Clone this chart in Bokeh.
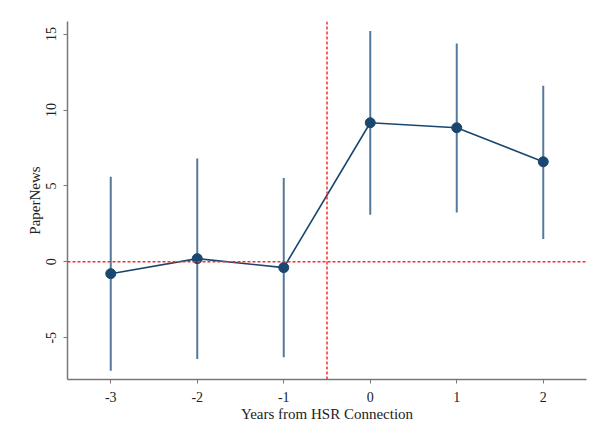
from bokeh.plotting import figure
from bokeh.models import Range1d, FixedTicker, Span
from bokeh.embed import file_html
from bokeh.resources import INLINE

years = [-3, -2, -1, 0, 1, 2]
coef = [-0.78, 0.21, -0.38, 9.16, 8.83, 6.59]
ci_low = [-7.17, -6.4, -6.29, 3.1, 3.25, 1.5]
ci_high = [5.6, 6.8, 5.52, 15.2, 14.38, 11.6]
x_ticks = [-3, -2, -1, 0, 1, 2]
y_ticks = [-5, 0, 5, 10, 15]

p = figure(width=591, height=435, output_backend="svg", toolbar_location=None,
           x_range=Range1d(-3.5, 2.5), y_range=Range1d(-7.75, 15.83),
           min_border_left=67, min_border_right=5, min_border_top=21, min_border_bottom=56)
p.outline_line_color = None
p.grid.visible = False
p.background_fill_color = "white"
p.border_fill_color = "white"

p.add_layout(Span(location=0, dimension="width", line_color="#ff2a2a", line_width=1.5, line_dash="3 2"))
p.add_layout(Span(location=-0.5, dimension="height", line_color="#ff2a2a", line_width=1.5, line_dash="3 2"))

p.segment(x0=years, y0=ci_low, x1=years, y1=ci_high, line_color="#56789b", line_width=2)
p.line(years, coef, line_color="#1a476f", line_width=1.6)
p.scatter(years, coef, size=10, fill_color="#1a476f", line_color="#1a476f")

for ax in (p.xaxis[0], p.yaxis[0]):
    ax.axis_line_color = "#777777"
    ax.axis_line_width = 1.5
    ax.major_tick_line_color = "#777777"
    ax.major_tick_out = 4
    ax.major_tick_in = 0
    ax.minor_tick_line_color = None
    ax.major_label_text_font = "Liberation Serif"
    ax.major_label_text_font_size = "14px"
    ax.major_label_text_color = "#222222"
    ax.axis_label_text_font = "Liberation Serif"
    ax.axis_label_text_font_size = "15px"
    ax.axis_label_text_font_style = "normal"
    ax.axis_label_text_color = "#222222"

p.xaxis.ticker = FixedTicker(ticks=x_ticks)
p.yaxis.ticker = FixedTicker(ticks=y_ticks)
p.xaxis.major_label_overrides = {t: str(t) for t in x_ticks}
p.yaxis.major_label_overrides = {t: str(t) for t in y_ticks}
p.xaxis.axis_label = "Years from HSR Connection"
p.yaxis.axis_label = "PaperNews"
p.yaxis.major_label_orientation = "vertical"
p.xaxis.major_label_standoff = 8
p.xaxis.axis_label_standoff = 1
p.yaxis.major_label_standoff = 7
p.yaxis.axis_label_standoff = 1

open("out.html", "w").write(file_html(p, INLINE))
